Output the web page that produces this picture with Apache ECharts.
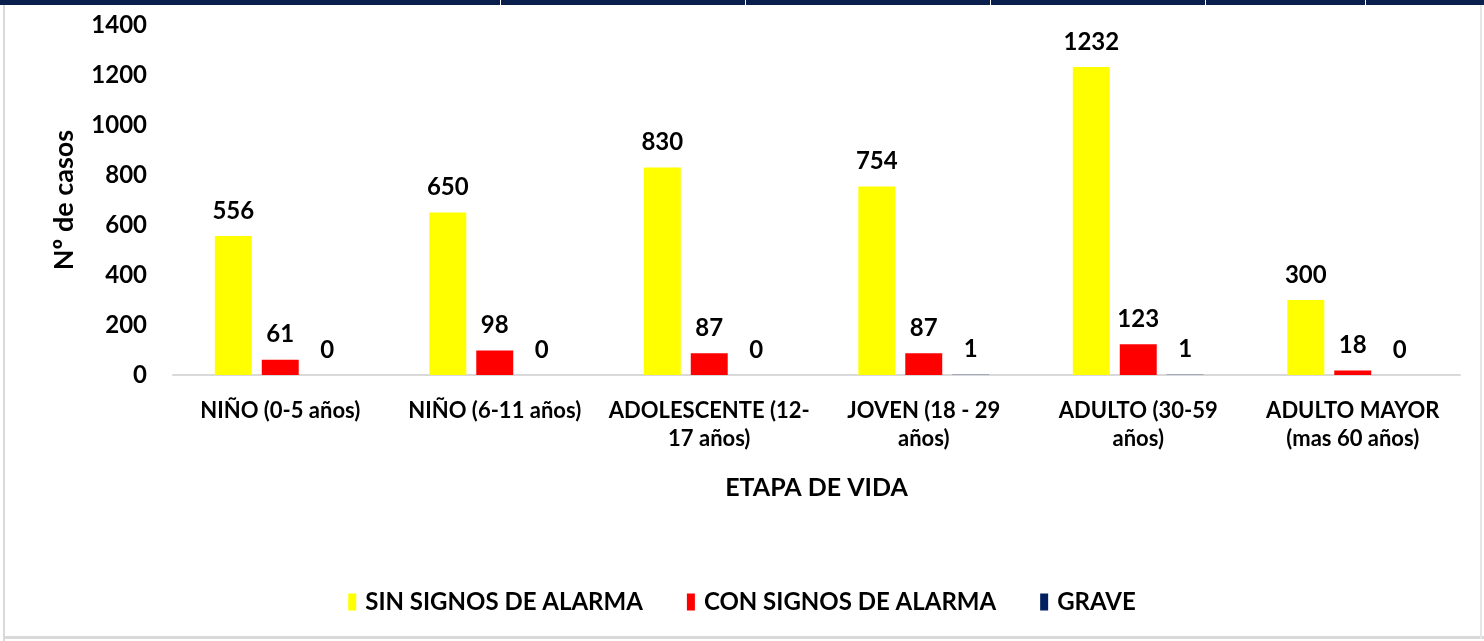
<!DOCTYPE html>
<html>
<head>
<meta charset="utf-8">
<script src="https://cdn.jsdelivr.net/npm/echarts@6/dist/echarts.min.js"></script>
<style>
  html, body { margin: 0; padding: 0; background: #fff; }
  #chart { width: 1484px; height: 641px; }
</style>
</head>
<body>
<div id="chart"></div>
<script>
const categories = [
  'NIÑO (0-5 años)',
  'NIÑO (6-11 años)',
  'ADOLESCENTE (12-\n17 años)',
  'JOVEN (18 - 29\naños)',
  'ADULTO (30-59\naños)',
  'ADULTO MAYOR\n(mas 60 años)'
];
const sinSignos = [556, 650, 830, 754, 1232, 300];
const conSignos = [61, 98, 87, 87, 123, 18];
const grave = [0, 0, 0, 1, 1, 0];
const yTicks = { min: 0, max: 1400, interval: 200 };

const font = 'Lato, "Open Sans", sans-serif';
const chart = echarts.init(document.getElementById('chart'));

const makeSeries = (name, data, color) => ({
  name,
  type: 'bar',
  data,
  barGap: '27%',
  barCategoryGap: '39%',
  itemStyle: { color },
  label: {
    show: true,
    position: 'top',
    distance: 13,
    color: '#000',
    fontFamily: font,
    fontWeight: 'bold',
    fontSize: 24
  }
});

chart.setOption({
  backgroundColor: '#fff',
  animation: false,
  graphic: [
    { type: 'rect', shape: { x: 0, y: 0, width: 1484, height: 5 }, style: { fill: '#0b1f4d' } },
    { type: 'rect', shape: { x: 3, y: 5, width: 2, height: 636 }, style: { fill: '#d9d9d9' } },
    { type: 'rect', shape: { x: 3, y: 636, width: 1481, height: 3 }, style: { fill: '#d9d9d9' } },
    { type: 'rect', shape: { x: 1480, y: 5, width: 2, height: 634 }, style: { fill: '#e6e6e6' } },
    ...[500, 745, 990, 1205, 1365].map(x => ({
      type: 'rect', shape: { x, y: 0, width: 1, height: 5 }, style: { fill: '#ffffff' }
    }))
  ],
  legend: {
    data: ['SIN SIGNOS DE ALARMA', 'CON SIGNOS DE ALARMA', 'GRAVE'],
    left: 'center',
    top: 585,
    itemWidth: 8,
    itemHeight: 17,
    itemGap: 44,
    icon: 'rect',
    textStyle: { fontFamily: font, fontWeight: 'bold', fontSize: 24, color: '#000', padding: [0, 0, 0, 4] }
  },
  grid: { left: 173, right: 24, top: 25, bottom: 266 },
  xAxis: {
    type: 'category',
    data: categories,
    name: 'ETAPA DE VIDA',
    nameLocation: 'middle',
    nameGap: 100,
    nameTextStyle: { fontFamily: font, fontWeight: 'bold', fontSize: 25, color: '#000' },
    axisLine: { lineStyle: { color: '#d9d9d9', width: 2 } },
    axisTick: { show: false },
    axisLabel: {
      interval: 0,
      margin: 22,
      fontFamily: font,
      fontWeight: 'bold',
      fontSize: 22,
      lineHeight: 28,
      color: '#000'
    }
  },
  yAxis: {
    type: 'value',
    min: yTicks.min,
    max: yTicks.max,
    interval: yTicks.interval,
    name: 'Nº de casos',
    nameLocation: 'middle',
    nameRotate: 90,
    nameGap: 95,
    nameTextStyle: { fontFamily: font, fontWeight: 'bold', fontSize: 27, color: '#000' },
    splitLine: { show: false },
    axisLine: { show: false },
    axisTick: { show: false },
    axisLabel: {
      margin: 26,
      formatter: v => String(v),
      fontFamily: font,
      fontWeight: 'bold',
      fontSize: 24,
      color: '#000'
    }
  },
  series: [
    makeSeries('SIN SIGNOS DE ALARMA', sinSignos, '#ffff00'),
    makeSeries('CON SIGNOS DE ALARMA', conSignos, '#ff0000'),
    makeSeries('GRAVE', grave, '#002060')
  ]
});

window.addEventListener('resize', () => chart.resize());
</script>
</body>
</html>
